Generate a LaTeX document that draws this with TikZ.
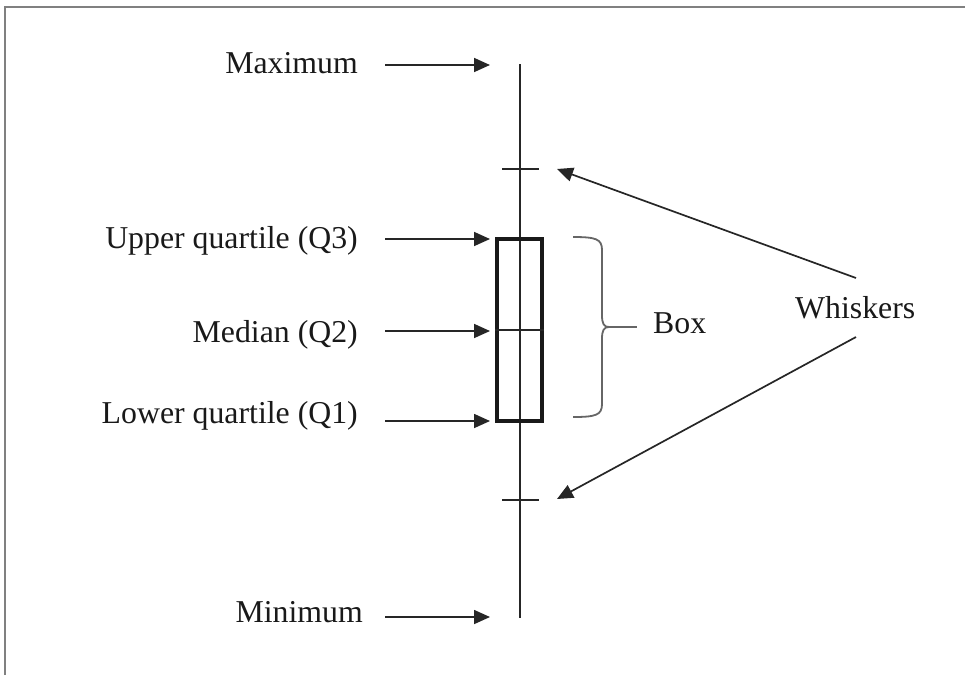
\documentclass[tikz,border=0pt]{standalone}
\usepackage{fontspec}
\setmainfont{Liberation Serif}
\usetikzlibrary{arrows.meta}
\begin{document}
\begin{tikzpicture}[x=1pt,y=-1pt,
  lbl/.style={inner sep=0pt, anchor=base east, font=\fontsize{31.8}{36}\selectfont, text=black!90},
  ptr/.style={line width=1.7pt, draw=black!85, -{Triangle[length=16pt,width=14pt]}},
  axisline/.style={line width=1.7pt, draw=black!85},
  bracecol/.style={line width=1.8pt, draw=black!60}]
\useasboundingbox (0,0) rectangle (965,675);
\draw[gray, line width=2.5pt] (5,675) -- (5,7) -- (965,7);
% axis
\coordinate (top) at (520,64);
\coordinate (bot) at (520,618);
\draw[axisline] (top) -- (bot);
% whisker ticks
\coordinate (wu1) at (502,169); \coordinate (wu2) at (539,169);
\coordinate (wl1) at (502,500); \coordinate (wl2) at (539,500);
\draw[axisline] (wu1) -- (wu2);
\draw[axisline] (wl1) -- (wl2);
% box
\node[draw=black!90, line width=3.2pt, minimum width=45pt, minimum height=182pt, inner sep=0pt] (box) at (519.5,330) {};
\draw[axisline] (box.west) -- (box.east);
% labels left
\node[lbl] (max) at (358,73) {Maximum};
\node[lbl] (q3) at (358,248) {Upper quartile (Q3)};
\node[lbl] (q2) at (358,342) {Median (Q2)};
\node[lbl] (q1) at (358,423) {Lower quartile (Q1)};
\node[lbl] (min) at (363,622) {Minimum};
% arrows
\coordinate (maxtail) at (385,65); \coordinate (maxtip) at (490,65);
\coordinate (q3tail) at (385,239); \coordinate (q3tip) at (490,239);
\coordinate (q2tail) at (385,331); \coordinate (q2tip) at (490,331);
\coordinate (q1tail) at (385,421); \coordinate (q1tip) at (490,421);
\coordinate (mintail) at (385,617); \coordinate (mintip) at (490,617);
\draw[ptr] (maxtail) -- (maxtip);
\draw[ptr] (q3tail) -- (q3tip);
\draw[ptr] (q2tail) -- (q2tip);
\draw[ptr] (q1tail) -- (q1tip);
\draw[ptr] (mintail) -- (mintip);
% brace
\coordinate (btip) at (609,327);
\draw[bracecol] (573,237) .. controls (596,237) and (602,239) .. (602,250) -- (602,315)
  .. controls (602,324) and (604,327) .. (btip)
  .. controls (604,327) and (602,330) .. (602,339) -- (602,404)
  .. controls (602,415) and (596,417) .. (573,417);
\coordinate (bend) at (637,327);
\draw[bracecol] (btip) -- (bend);
\node[lbl, anchor=base west] (boxlbl) at (653,333) {Box};
% whiskers
\node[lbl, anchor=base west] (wh) at (795,318) {Whiskers};
\coordinate (whu) at (856,278); \coordinate (whl) at (856,337);
\coordinate (tu) at (557,169); \coordinate (tl) at (557,499);
\draw[ptr] (whu) -- (tu);
\draw[ptr] (whl) -- (tl);
\end{tikzpicture}
\end{document}
